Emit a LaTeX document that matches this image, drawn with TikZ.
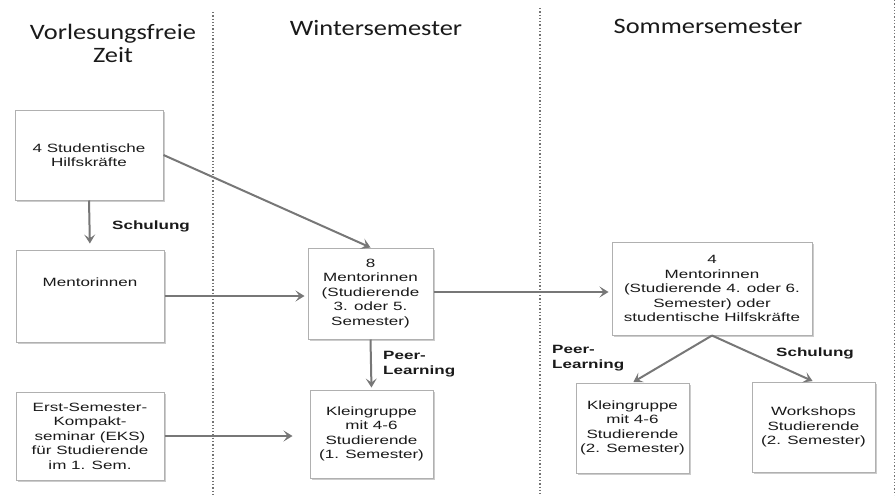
\documentclass[tikz,border=0pt]{standalone}
\usepackage{fontspec}
\usetikzlibrary{arrows.meta,shadows}
\newfontfamily\boxfont[FakeStretch=1.42]{Liberation Sans}
\newfontfamily\headfont[FakeStretch=1.2]{Carlito}
\definecolor{arrgray}{HTML}{777777}
\definecolor{boxline}{HTML}{B0B0B0}
\definecolor{txt}{HTML}{1A1A1A}
\tikzset{
  box/.style={draw=boxline, line width=1pt, fill=white, align=center, text=txt,
    font=\boxfont\fontsize{12}{14.5}\selectfont, inner sep=2pt,
    drop shadow={shadow xshift=1.5pt, shadow yshift=-1.5pt, opacity=0.4, fill=gray}},
  conn/.style={draw=arrgray, line width=2pt, -{Stealth[length=9pt,width=11pt,inset=4pt]}},
  lbl/.style={font=\boxfont\bfseries\fontsize{12}{15}\selectfont, text=txt, inner sep=0pt},
  head/.style={font=\headfont\fontsize{22}{23}\selectfont, text=txt, align=center, inner sep=0pt},
  divider/.style={draw=gray!90!black, line width=1.3pt, dotted}
}
\begin{document}
\begin{tikzpicture}[x=1pt,y=-1pt]
\useasboundingbox (0,0) rectangle (896,495);
% dividers
\coordinate (d1t) at (213,12); \coordinate (d1b) at (213,495);
\coordinate (d2t) at (540,8);  \coordinate (d2b) at (540,495);
\coordinate (d3t) at (894.5,0);  \coordinate (d3b) at (894.5,495);
\draw[divider] (d1t) -- (d1b);
\draw[divider] (d2t) -- (d2b);
\draw[divider] (d3t) -- (d3b);
% headers
\node[head] (hv) at (113,43.5) {Vorlesungsfreie\\Zeit};
\node[head] (hw) at (376,28) {Wintersemester};
\node[head] (hs) at (708,26) {Sommersemester};
% boxes
\node[box, minimum width=148pt, minimum height=90pt] (h1) at (89,155) {4 Studentische\\Hilfskräfte};
\node[box, minimum width=148pt, minimum height=92pt] (men) at (90,296) {Mentorinnen\\[14pt]};
\node[box, minimum width=148pt, minimum height=88pt] (eks) at (90,436) {Erst-Semester-\\Kompakt-\\seminar (EKS)\\für Studierende\\im 1. Sem.};
\node[box, minimum width=125pt, minimum height=91pt] (m8) at (370.5,293.5) {8\\Mentorinnen\\(Studierende\\3. oder 5.\\Semester)};
\node[box, minimum width=123pt, minimum height=88pt] (k1) at (371.5,434) {Kleingruppe\\mit 4-6\\Studierende\\(1. Semester)};
\node[box, minimum width=200pt, minimum height=93pt] (m4) at (712,288.5) {4\\Mentorinnen\\(Studierende 4. oder 6.\\Semester) oder\\studentische Hilfskräfte};
\node[box, minimum width=113pt, minimum height=90pt] (k2) at (632.5,428) {Kleingruppe\\mit 4-6\\Studierende\\(2. Semester)};
\node[box, minimum width=123pt, minimum height=90pt] (ws) at (813.5,427) {Workshops\\Studierende\\(2. Semester)};
% connectors
\draw[conn, shorten >=6pt] (h1.south) -- (men.north);
\draw[conn] (h1.east) -- (m8.north);
\draw[conn, shorten >=3pt] (men.east) -- (men.east -| m8.west);
\draw[conn, shorten >=3pt] (m8.east |- 292,292) -- (m4.west |- 292,292);
\draw[conn, shorten >=2pt] (m8.south) -- (k1.north);
\draw[conn, shorten >=17pt] (eks.east) -- (eks.east -| k1.west);
\draw[conn, shorten >=1pt] (m4.south) -- (k2.north);
\draw[conn, shorten >=1pt] (m4.south) -- (ws.north);
% labels
\node[lbl] (s1) at (151,226) {Schulung};
\node[lbl, anchor=west, align=left] (p1) at (383,364.5) {Peer-\\Learning};
\node[lbl, anchor=west, align=left] (p2) at (552,358.5) {Peer-\\Learning};
\node[lbl] (s2) at (815,353) {Schulung};
\end{tikzpicture}
\end{document}
